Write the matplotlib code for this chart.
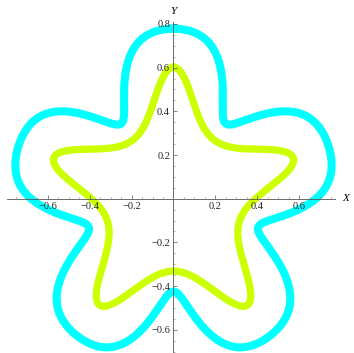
import numpy as np
import matplotlib
matplotlib.use('Agg')
import matplotlib.pyplot as plt

# closed curves as sums of rotating terms: z(t) = i * sum(c_k * exp(i * n_k * t))
harmonic_orders = [1, -4, 6, -9, 11]
outer_coef = [0.6317, 0.0815, 0.0951, -0.0167, -0.0134]
inner_coef = [0.4664, 0.0969, 0.0380, 0.0, 0.0]

x_ticks = [-0.6, -0.4, -0.2, 0.2, 0.4, 0.6]
y_ticks = [-0.6, -0.4, -0.2, 0.2, 0.4, 0.6, 0.8]


def star_curve(coef, t):
    w = sum(c * np.exp(1j * n * t) for c, n in zip(coef, harmonic_orders))
    return 1j * w


def fmt(v):
    return f'{v:.1f}'.replace('-', '\u2212')


plt.rcParams['font.family'] = ['Liberation Serif', 'DejaVu Serif']

fig = plt.figure(figsize=(3.54, 3.53), dpi=100)
ax = fig.add_axes([0, 0, 1, 1])
ax.set_xlim(-0.828, 0.8616)
ax.set_ylim(-0.7062, 0.9094)
ax.set_axisbelow(False)

t = np.linspace(0, 2 * np.pi, 2000)
for coef, col, lw in [(outer_coef, '#00ffff', 5.8), (inner_coef, '#ccff00', 5.2)]:
    z = star_curve(coef, t)
    ax.plot(z.real, z.imag, color=col, lw=lw, solid_joinstyle='round', zorder=1)

xb = (-0.795, 0.771)
yb = (-0.71, 0.81)
for s in ['top', 'right']:
    ax.spines[s].set_visible(False)
ax.spines['left'].set_position('zero')
ax.spines['bottom'].set_position('zero')
ax.spines['bottom'].set_bounds(*xb)
ax.spines['left'].set_bounds(*yb)
for s in ['left', 'bottom']:
    ax.spines[s].set_color('#555555')
    ax.spines[s].set_linewidth(0.6)

ax.set_xticks(x_ticks)
ax.set_xticklabels([fmt(v) for v in x_ticks])
ax.set_yticks(y_ticks)
ax.set_yticklabels([fmt(v) for v in y_ticks])
minor = np.round(np.arange(-0.75, 0.80, 0.05), 2)
ax.set_xticks(minor[(minor > xb[0]) & (minor < xb[1])], minor=True)
ax.set_yticks(minor[(minor > yb[0]) & (minor < yb[1])], minor=True)
ax.tick_params(which='major', direction='in', length=3, width=0.5, color='#555555',
               labelsize=7.5, pad=2.5, labelcolor='#222222')
ax.tick_params(which='minor', direction='in', length=1.6, width=0.4, color='#777777')

ax.text(0.822, 0.0, 'X', fontsize=8, style='italic', ha='center', va='center')
ax.text(0.0, 0.857, 'Y', fontsize=8, style='italic', ha='center', va='center')

fig.savefig('out.png')
